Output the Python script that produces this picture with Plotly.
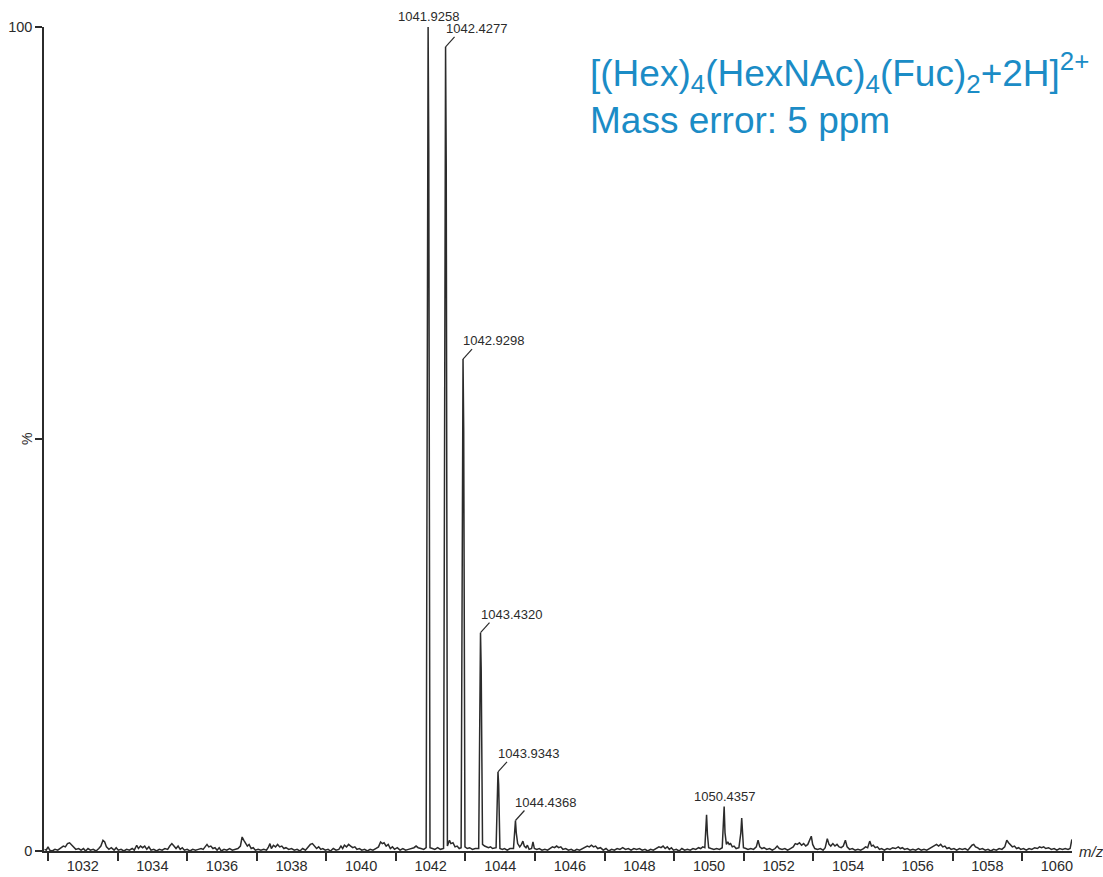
import plotly.graph_objects as go

# ---------------- data ----------------
profile_mz = [
    1030.90, 1030.95, 1031.00, 1031.05, 1031.12, 1031.20, 1031.28, 1031.36, 1031.44, 1031.50, 1031.56, 1031.62, 1031.68, 1031.74, 1031.80, 1031.88, 1031.95,
    1032.02, 1032.08, 1032.15, 1032.22, 1032.30, 1032.38, 1032.46, 1032.52, 1032.58, 1032.63, 1032.68, 1032.75, 1032.82, 1032.90, 1032.96,
    1033.02, 1033.10, 1033.18, 1033.26, 1033.34, 1033.42, 1033.48, 1033.55, 1033.60, 1033.66, 1033.72, 1033.78, 1033.84, 1033.90, 1033.96,
    1034.04, 1034.12, 1034.20, 1034.28, 1034.36, 1034.44, 1034.50, 1034.56, 1034.62, 1034.68, 1034.74, 1034.80, 1034.86, 1034.92,
    1035.00, 1035.08, 1035.16, 1035.24, 1035.32, 1035.40, 1035.46, 1035.52, 1035.57, 1035.62, 1035.68, 1035.74, 1035.80, 1035.86, 1035.92, 1035.98,
    1036.06, 1036.14, 1036.22, 1036.30, 1036.38, 1036.46, 1036.53, 1036.58, 1036.63, 1036.68, 1036.73, 1036.78, 1036.84, 1036.90, 1036.96,
    1037.04, 1037.12, 1037.20, 1037.28, 1037.34, 1037.38, 1037.42, 1037.48, 1037.54, 1037.60, 1037.66, 1037.72, 1037.78, 1037.84, 1037.92,
    1038.00, 1038.08, 1038.16, 1038.24, 1038.32, 1038.40, 1038.47, 1038.54, 1038.60, 1038.66, 1038.72, 1038.78, 1038.84, 1038.90, 1038.97,
    1039.05, 1039.12, 1039.20, 1039.28, 1039.36, 1039.42, 1039.47, 1039.52, 1039.58, 1039.64, 1039.70, 1039.76, 1039.82, 1039.88, 1039.95,
    1040.02, 1040.10, 1040.18, 1040.26, 1040.34, 1040.42, 1040.50, 1040.56, 1040.61, 1040.66, 1040.72, 1040.78, 1040.84, 1040.90, 1040.96,
    1041.04, 1041.12, 1041.20, 1041.28, 1041.36, 1041.44, 1041.52, 1041.58, 1041.64, 1041.72, 1041.80, 1041.87, 1041.905, 1041.9258, 1041.945, 1041.98,
    1042.05, 1042.12, 1042.20, 1042.28, 1042.37, 1042.407, 1042.4277, 1042.447, 1042.48, 1042.54, 1042.58, 1042.64, 1042.70, 1042.76, 1042.82, 1042.875, 1042.91, 1042.9298, 1042.949, 1042.985,
    1043.05, 1043.12, 1043.20, 1043.28, 1043.38, 1043.412, 1043.4320, 1043.452, 1043.49, 1043.55, 1043.60, 1043.66, 1043.72, 1043.78, 1043.88, 1043.914, 1043.9343, 1043.954, 1043.99,
    1044.06, 1044.12, 1044.20, 1044.28, 1044.38, 1044.415, 1044.4368, 1044.46, 1044.50, 1044.56, 1044.61, 1044.65, 1044.69, 1044.74, 1044.78, 1044.83, 1044.90, 1044.94, 1044.98,
    1045.05, 1045.12, 1045.20, 1045.28, 1045.36, 1045.44, 1045.50, 1045.56, 1045.62, 1045.68, 1045.74, 1045.80, 1045.88, 1045.96,
    1046.04, 1046.12, 1046.20, 1046.28, 1046.36, 1046.44, 1046.50, 1046.56, 1046.62, 1046.68, 1046.74, 1046.80, 1046.88, 1046.96,
    1047.04, 1047.12, 1047.20, 1047.28, 1047.36, 1047.44, 1047.52, 1047.60, 1047.68, 1047.76, 1047.84, 1047.92,
    1048.00, 1048.08, 1048.16, 1048.24, 1048.32, 1048.40, 1048.48, 1048.56, 1048.62, 1048.68, 1048.74, 1048.80, 1048.86, 1048.92, 1048.98,
    1049.06, 1049.14, 1049.22, 1049.30, 1049.38, 1049.46, 1049.54, 1049.62, 1049.70, 1049.76, 1049.82, 1049.88, 1049.905, 1049.93, 1049.955, 1049.99,
    1050.06, 1050.14, 1050.22, 1050.30, 1050.38, 1050.41, 1050.4357, 1050.46, 1050.50, 1050.54, 1050.58, 1050.62, 1050.67, 1050.72, 1050.78, 1050.86, 1050.915, 1050.94, 1050.965, 1050.99,
    1051.06, 1051.12, 1051.20, 1051.28, 1051.36, 1051.41, 1051.46, 1051.52, 1051.58, 1051.66, 1051.74, 1051.82, 1051.90, 1051.96,
    1052.02, 1052.10, 1052.18, 1052.26, 1052.34, 1052.42, 1052.48, 1052.54, 1052.60, 1052.66, 1052.72, 1052.78, 1052.84, 1052.90, 1052.94, 1052.98,
    1053.04, 1053.12, 1053.20, 1053.28, 1053.34, 1053.40, 1053.45, 1053.50, 1053.56, 1053.62, 1053.68, 1053.74, 1053.80, 1053.86, 1053.92, 1053.97,
    1054.04, 1054.12, 1054.20, 1054.28, 1054.36, 1054.44, 1054.50, 1054.56, 1054.62, 1054.67, 1054.72, 1054.78, 1054.84, 1054.90, 1054.96,
    1055.04, 1055.12, 1055.20, 1055.28, 1055.36, 1055.44, 1055.50, 1055.56, 1055.62, 1055.70, 1055.78, 1055.86, 1055.94,
    1056.02, 1056.10, 1056.18, 1056.26, 1056.34, 1056.42, 1056.48, 1056.54, 1056.60, 1056.66, 1056.72, 1056.78, 1056.84, 1056.90, 1056.96,
    1057.04, 1057.12, 1057.20, 1057.28, 1057.36, 1057.44, 1057.50, 1057.56, 1057.61, 1057.66, 1057.72, 1057.78, 1057.86, 1057.94,
    1058.02, 1058.10, 1058.18, 1058.26, 1058.34, 1058.42, 1058.50, 1058.56, 1058.61, 1058.66, 1058.72, 1058.78, 1058.84, 1058.90, 1058.96,
    1059.04, 1059.12, 1059.20, 1059.28, 1059.36, 1059.44, 1059.50, 1059.56, 1059.62, 1059.68, 1059.76, 1059.84, 1059.92, 1060.00, 1060.08, 1060.16, 1060.24, 1060.32, 1060.38, 1060.43,
]
profile_int = [
    0.2, 0.1, 0.5, 0.1, 0.0, 0.2, 0.1, 0.3, 0.6, 0.5, 0.9, 1.0, 0.7, 0.4, 0.2, 0.3, 0.1,
    0.3, 0.0, 0.3, 0.1, 0.2, 0.0, 0.3, 0.6, 1.3, 1.1, 0.5, 0.2, 0.4, 0.1, 0.4,
    0.1, 0.2, 0.0, 0.2, 0.1, 0.3, 0.1, 0.7, 0.3, 0.6, 0.4, 0.6, 0.2, 0.5, 0.1,
    0.2, 0.0, 0.2, 0.1, 0.3, 0.2, 0.6, 0.9, 0.6, 0.3, 0.6, 0.2, 0.4, 0.1,
    0.2, 0.0, 0.2, 0.1, 0.2, 0.3, 0.2, 0.5, 0.8, 0.5, 0.6, 0.3, 0.4, 0.1, 0.4, 0.0,
    0.2, 0.1, 0.3, 0.1, 0.2, 0.3, 0.6, 1.7, 1.3, 0.9, 0.6, 0.8, 0.3, 0.4, 0.1,
    0.2, 0.1, 0.2, 0.1, 0.5, 0.9, 0.3, 0.7, 0.5, 0.8, 0.5, 0.6, 0.3, 0.4, 0.2,
    0.3, 0.1, 0.2, 0.0, 0.3, 0.1, 0.4, 0.8, 0.9, 0.6, 0.3, 0.5, 0.2, 0.3, 0.1,
    0.2, 0.0, 0.3, 0.1, 0.2, 0.6, 0.3, 0.7, 0.5, 0.8, 0.6, 0.4, 0.5, 0.2, 0.3,
    0.1, 0.2, 0.0, 0.2, 0.1, 0.3, 0.5, 1.1, 0.9, 1.0, 0.6, 0.8, 0.3, 0.5, 0.2,
    0.4, 0.1, 0.3, 0.1, 0.2, 0.3, 0.4, 0.6, 0.4, 0.3, 0.2, 0.4, 85, 100, 85, 0.4,
    0.3, 0.2, 0.4, 0.2, 0.3, 83, 97.6, 83, 0.6, 1.3, 0.9, 1.0, 0.5, 0.6, 0.3, 0.4, 51, 59.7, 51, 0.5,
    0.3, 0.4, 0.2, 0.3, 0.3, 22, 26.5, 22, 0.8, 0.6, 0.5, 0.4, 0.5, 0.3, 0.4, 8, 9.6, 8, 0.3,
    0.2, 0.3, 0.1, 0.3, 0.3, 3.0, 3.7, 2.2, 0.9, 0.5, 0.8, 1.2, 0.6, 0.4, 0.7, 0.2, 0.3, 1.1, 0.3,
    0.2, 0.3, 0.1, 0.2, 0.1, 0.3, 0.5, 0.4, 0.6, 0.4, 0.5, 0.2, 0.3, 0.1,
    0.2, 0.0, 0.2, 0.1, 0.3, 0.4, 0.6, 0.5, 0.7, 0.5, 0.6, 0.3, 0.4, 0.1,
    0.3, 0.0, 0.2, 0.1, 0.3, 0.2, 0.4, 0.2, 0.3, 0.1, 0.3, 0.2,
    0.3, 0.1, 0.2, 0.0, 0.2, 0.1, 0.3, 0.5, 0.4, 0.6, 0.3, 0.5, 0.2, 0.4, 0.1,
    0.2, 0.0, 0.3, 0.1, 0.2, 0.1, 0.3, 0.2, 0.4, 0.3, 0.5, 0.4, 2.6, 4.4, 2.0, 0.4,
    0.3, 0.2, 0.3, 0.2, 0.4, 3.0, 5.4, 2.2, 0.8, 1.1, 0.8, 0.9, 0.5, 0.6, 0.3, 0.4, 2.2, 4.0, 1.8, 0.4,
    0.3, 0.2, 0.3, 0.2, 0.5, 1.3, 0.5, 0.3, 0.4, 0.2, 0.3, 0.1, 0.3, 0.6,
    0.3, 0.2, 0.3, 0.1, 0.3, 0.5, 0.9, 0.8, 1.0, 0.7, 0.9, 0.6, 0.8, 1.3, 1.8, 0.8,
    0.3, 0.2, 0.3, 0.1, 0.4, 1.5, 0.8, 0.6, 0.9, 0.6, 0.8, 0.5, 0.4, 0.6, 1.3, 0.5,
    0.2, 0.3, 0.1, 0.2, 0.1, 0.3, 0.5, 0.4, 1.2, 0.6, 0.7, 0.4, 0.5, 0.2, 0.3,
    0.1, 0.3, 0.2, 0.4, 0.3, 0.5, 0.3, 0.4, 0.2, 0.3, 0.1, 0.2, 0.1,
    0.3, 0.1, 0.2, 0.1, 0.3, 0.4, 0.6, 0.8, 0.6, 0.8, 0.5, 0.6, 0.3, 0.4, 0.2,
    0.3, 0.1, 0.3, 0.2, 0.3, 0.1, 0.4, 0.7, 0.8, 0.5, 0.4, 0.2, 0.3, 0.1,
    0.2, 0.0, 0.2, 0.1, 0.3, 0.2, 0.5, 1.3, 1.0, 0.8, 0.5, 0.6, 0.3, 0.4, 0.2,
    0.3, 0.1, 0.3, 0.2, 0.4, 0.3, 0.5, 0.4, 0.5, 0.3, 0.4, 0.2, 0.3, 0.1, 0.3, 0.2, 0.3, 0.2, 0.3, 1.4,
]
assert len(profile_mz) == len(profile_int)

label_mz = [1041.9258, 1042.4277, 1042.9298, 1043.4320, 1043.9343, 1044.4368, 1050.4357]
label_int = [100, 97.6, 59.7, 26.5, 9.6, 3.7, 5.4]
label_text = ["1041.9258", "1042.4277", "1042.9298", "1043.4320", "1043.9343", "1044.4368", "1050.4357"]
label_has_leader = [False, True, True, True, True, True, False]

x_label_vals = [1032, 1034, 1036, 1038, 1040, 1042, 1044, 1046, 1048, 1050, 1052, 1054, 1056, 1058, 1060]
y_tick_vals = [0, 50, 100]
y_tick_text = ["0", "", "100"]

title_line1 = "[(Hex)<sub>4</sub>(HexNAc)<sub>4</sub>(Fuc)<sub>2</sub>+2H]<sup>2+</sup>"
title_line2 = "Mass error: 5 ppm"

# ---------------- styling / layout ----------------
INK = "#2b2b2b"
BLUE = "#1b8cc6"
FONT = "Liberation Sans, Arial, sans-serif"

FIG_W, FIG_H = 1103, 877
M_L, M_R, M_T, M_B = 44, 31, 27, 26
X_RANGE = [1030.885, 1060.434]
Y_RANGE = [0, 100]
px_per_x = (FIG_W - M_L - M_R) / (X_RANGE[1] - X_RANGE[0])
px_per_y = (FIG_H - M_T - M_B) / (Y_RANGE[1] - Y_RANGE[0])
LEAD_DX, LEAD_DY = 9, 10  # leader line offsets in pixels

fig = go.Figure()
fig.add_trace(go.Scatter(
    x=profile_mz, y=profile_int, mode="lines",
    line=dict(color=INK, width=1.5), hoverinfo="skip", showlegend=False,
))

for mz, inten, txt, lead in zip(label_mz, label_int, label_text, label_has_leader):
    if lead:
        fig.add_shape(type="line", xref="x", yref="y",
                      x0=mz, y0=inten,
                      x1=mz + LEAD_DX / px_per_x, y1=inten + LEAD_DY / px_per_y,
                      line=dict(color=INK, width=1.2))
        fig.add_annotation(x=mz, y=inten, xref="x", yref="y", text=txt,
                           showarrow=False, xanchor="left", yanchor="bottom",
                           xshift=-2, yshift=9, font=dict(family=FONT, size=13, color=INK))
    else:
        fig.add_annotation(x=mz, y=inten, xref="x", yref="y", text=txt,
                           showarrow=False, xanchor="center", yanchor="bottom",
                           yshift=1, font=dict(family=FONT, size=13, color=INK))

fig.add_annotation(x=0.529, y=0.945, xref="paper", yref="paper", text=title_line1,
                   showarrow=False, xanchor="left", yanchor="middle",
                   font=dict(family=FONT, size=37, color=BLUE))
fig.add_annotation(x=0.529, y=0.886, xref="paper", yref="paper", text=title_line2,
                   showarrow=False, xanchor="left", yanchor="middle",
                   font=dict(family=FONT, size=37, color=BLUE))

fig.add_annotation(x=1.0, y=0, xref="paper", yref="paper", text="<i>m/z</i>",
                   showarrow=False, xanchor="left", yanchor="middle", xshift=5,
                   font=dict(family=FONT, size=15, color=INK))
fig.add_annotation(x=0, y=0.5, xref="paper", yref="paper", text="%",
                   showarrow=False, xanchor="center", yanchor="middle", xshift=-17,
                   textangle=-90, font=dict(family=FONT, size=14, color=INK))

fig.update_xaxes(
    range=X_RANGE, showgrid=False, zeroline=False,
    showline=True, linecolor=INK, linewidth=1.5,
    tickmode="array", tickvals=x_label_vals, ticktext=[str(v) for v in x_label_vals],
    ticks="outside", ticklen=1, tickcolor="rgba(0,0,0,0)",
    minor=dict(ticks="outside", tick0=1031, dtick=2, ticklen=8, tickcolor=INK, tickwidth=1.5, showgrid=False),
    tickfont=dict(family=FONT, size=14.5, color=INK), automargin=False,
)
fig.update_yaxes(
    range=Y_RANGE, showgrid=False, zeroline=False,
    showline=True, linecolor=INK, linewidth=1.5,
    tickmode="array", tickvals=y_tick_vals, ticktext=y_tick_text,
    ticks="outside", ticklen=7, tickcolor=INK, tickwidth=1.5,
    tickfont=dict(family=FONT, size=14.5, color=INK), automargin=False,
)
fig.update_layout(
    width=FIG_W, height=FIG_H,
    margin=dict(l=M_L, r=M_R, t=M_T, b=M_B),
    paper_bgcolor="white", plot_bgcolor="white",
    showlegend=False,
)
fig.write_html(
    "out.html",
    config={"displayModeBar": False},
    post_script="document.body.style.margin='0';document.body.style.overflow='hidden';",
)
